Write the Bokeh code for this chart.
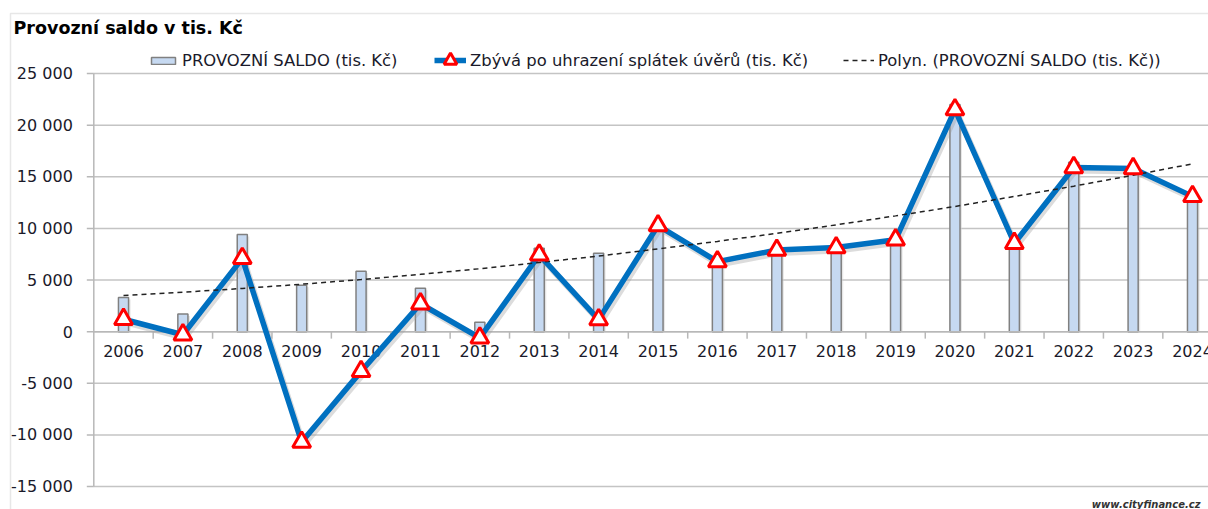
from bokeh.plotting import figure
from bokeh.models import Legend, LegendItem, Label, BoxAnnotation, Range1d
from bokeh.embed import file_html
from bokeh.resources import INLINE
from bokeh.core.properties import value

years = list(range(2006, 2025))
saldo = [3300, 1700, 9400, 4500, 5850, 4200, 900, 8070, 7590, 10250, 6800, 7800,
         8150, 9000, 22000, 8600, 16400, 16000, 13000]
zbyva = [1200, -300, 7100, -10700, -3850, 2700, -600, 7430, 1160, 10270, 6780, 7900,
         8140, 8900, 21500, 8560, 15900, 15800, 13100]
trend = [3500, 3820, 4180, 4590, 5040, 5550, 6090, 6700, 7320, 8010, 8740, 9520,
         10340, 11210, 12120, 13090, 14090, 15150, 16250]
y_ticks = [-15000, -10000, -5000, 0, 5000, 10000, 15000, 20000, 25000]
y_tick_labels = ["-15 000", "-10 000", "-5 000", "0", "5 000", "10 000", "15 000", "20 000", "25 000"]
title_text = "Provozní saldo v tis. Kč"
legend_labels = ["PROVOZNÍ SALDO (tis. Kč)",
                 "Zbývá po uhrazení splátek úvěrů (tis. Kč)",
                 "Polyn. (PROVOZNÍ SALDO (tis. Kč))"]
watermark = "www.cityfinance.cz"

FONT = "DejaVu Sans"
TXT = "#1a1a2a"
AXC = "#b8b8b8"
W, H = 1208, 509
# plot-area geometry in pixels
PL, PT, PB = 94, 73, 486          # left edge, top (25 000), bottom (-15 000)
X0PIX, XSTEP = 123, 59.39          # centre of the first category, category spacing
ymin, ymax = y_ticks[0], y_ticks[-1]
k = (ymax - ymin) / (PB - PT)      # data units per pixel (y)
xpix = 1.0 / XSTEP                 # data units per pixel (x)

x_lo = years[0] - X0PIX * xpix
x_hi = years[0] + (W - X0PIX) * xpix
y_lo = ymin - (H - PB) * k
y_hi = ymax + PT * k
x_axis = years[0] - 0.5

p = figure(width=W, height=H, output_backend="svg", toolbar_location=None,
           x_range=Range1d(x_lo, x_hi), y_range=Range1d(y_lo, y_hi),
           min_border=0, x_axis_location=None, y_axis_location=None)
p.outline_line_color = None
p.background_fill_color = "white"
p.border_fill_color = "white"
p.grid.visible = False

# gridlines
p.segment(x0=[x_axis] * len(y_ticks), y0=y_ticks, x1=[x_hi + 1] * len(y_ticks), y1=y_ticks,
          line_color="#c4c4c4", line_width=1.5)
# y axis
p.segment(x0=[x_axis], y0=[ymin], x1=[x_axis], y1=[ymax], line_color=AXC, line_width=1.5)
p.segment(x0=[x_axis - 7 * xpix] * len(y_ticks), y0=y_ticks, x1=[x_axis] * len(y_ticks),
          y1=y_ticks, line_color=AXC, line_width=1.5)
p.text(x=[x_axis] * len(y_ticks), y=y_ticks, text=y_tick_labels, text_align="right",
       text_baseline="middle", x_offset=-21, text_font=value(FONT), text_font_size="16px",
       text_color=TXT)

# bars (shadow + bar)
p.vbar(x=[x + 2 * xpix for x in years], top=[v - 2 * k for v in saldo], bottom=0,
       width=0.17, fill_color="#d0d0d0", fill_alpha=0.5, line_color=None)
bars = p.vbar(x=years, top=saldo, bottom=0, width=0.17, fill_color="#c6d9f1",
              line_color="#808080", line_width=1.5)

# x axis at zero
p.segment(x0=[x_axis], y0=[0], x1=[x_hi + 1], y1=[0], line_color=AXC, line_width=1.5)
bounds = [y + 0.5 for y in years[:-1]]
p.segment(x0=bounds, y0=[0] * len(bounds), x1=bounds, y1=[-7 * k] * len(bounds),
          line_color=AXC, line_width=1.5)
p.text(x=years, y=[0] * len(years), text=[str(y) for y in years], text_align="center",
       text_baseline="middle", y_offset=19, text_font=value(FONT), text_font_size="16px",
       text_color=TXT)

# blue line with soft shadow
p.line([x + 2 * xpix for x in years], [v - 3 * k for v in zbyva], line_color="#9a9a9a",
       line_alpha=0.35, line_width=6)
ln = p.line(years, zbyva, line_color="#0070c0", line_width=5.5)
tr = p.line(years, trend, line_color="#222222", line_width=1.5, line_dash="5 4")
sc = p.scatter(years, zbyva, marker="triangle", size=18, fill_color="white",
               line_color="#ff0000", line_width=3)

common = dict(orientation="horizontal", label_standoff=4, padding=0,
              margin=0, border_line_color=None, background_fill_alpha=0,
              label_text_font=FONT, label_text_font_size="16.4px", label_text_color=TXT,
              label_height=20)
p.add_layout(Legend(items=[LegendItem(label=legend_labels[0], renderers=[bars])],
                    location=(148, H - 70), glyph_width=30, glyph_height=9, **common),
             "center")
p.add_layout(Legend(items=[LegendItem(label=legend_labels[1], renderers=[ln, sc])],
                    location=(434, H - 76), glyph_width=32, glyph_height=32, **common),
             "center")
p.add_layout(Legend(items=[LegendItem(label=legend_labels[2], renderers=[tr])],
                    location=(843, H - 70), glyph_width=31, glyph_height=20, **common),
             "center")

p.add_layout(Label(x=13, y=H - 27, x_units="screen", y_units="screen",
                   text=title_text, text_font=FONT, text_font_style="bold",
                   text_font_size="17.5px", text_baseline="middle", text_color="black"))
p.add_layout(Label(x=1200, y=H - 504, x_units="screen", y_units="screen",
                   text=watermark, text_font=FONT, text_font_style="bold italic",
                   text_font_size="10px", text_baseline="middle", text_align="right",
                   text_color="#333333"))
p.add_layout(BoxAnnotation(left=10, right=W + 20, top=H - 13, bottom=-100,
                           left_units="screen", right_units="screen", top_units="screen",
                           bottom_units="screen", fill_color=None, line_color="#b0b0b0",
                           line_width=1.5))

open("out.html", "w").write(file_html(p, INLINE))
